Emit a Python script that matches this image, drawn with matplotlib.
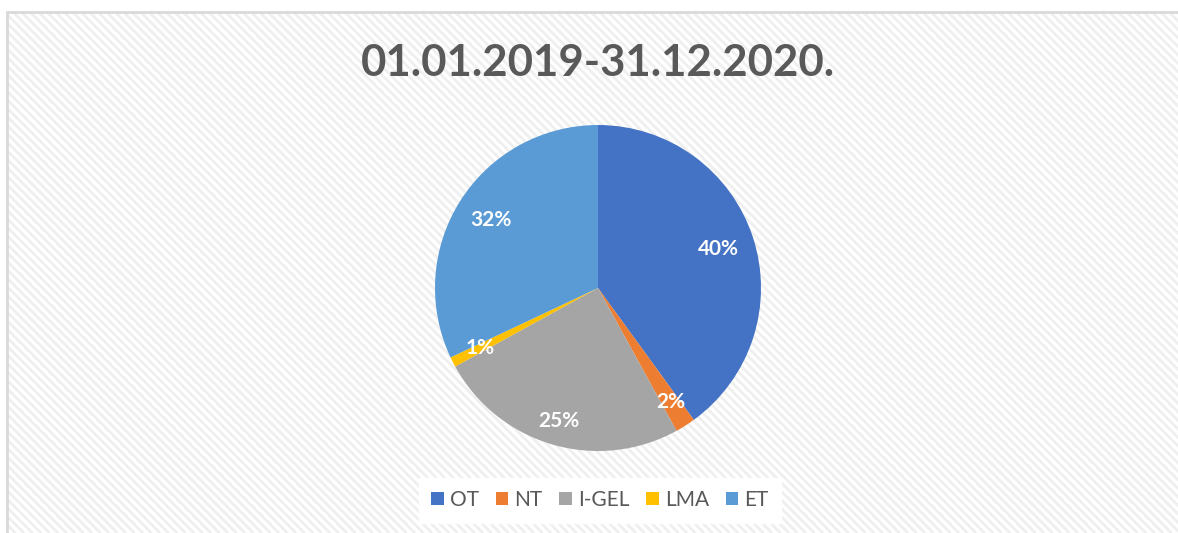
import matplotlib
matplotlib.use("Agg")
import matplotlib.pyplot as plt
from matplotlib.lines import Line2D
from matplotlib.collections import LineCollection
import numpy as np

title = "01.01.2019-31.12.2020."
categories = ["OT", "NT", "I-GEL", "LMA", "ET"]
values = [40, 2, 25, 1, 32]
colors = ["#4472C4", "#ED7D31", "#A5A5A5", "#FFC000", "#5B9BD5"]
label_dist = [0.78, 0.83, 0.85, 0.81, 0.78]

plt.rcParams['font.family'] = ['Lato', 'DejaVu Sans']

W, H = 1178, 533
fig = plt.figure(figsize=(W / 100, H / 100), dpi=100)
fig.patch.set_facecolor("white")

x0, y1 = 7 / W, 1 - 12 / H
# striped background (decoration)
bgax = fig.add_axes([x0, 0, 1 - x0, y1])
bgax.set_zorder(-2)
bw, bh = W * (1 - x0), H * y1
bgax.set_xlim(0, bw)
bgax.set_ylim(0, bh)
bgax.axis("off")
step = 8.5
segs = [[(c - bh, bh), (c, 0)] for c in np.arange(0, bw + bh + step, step)]
bgax.add_collection(LineCollection(segs, colors="#efefef", linewidths=2.0))

border = Line2D([x0, x0, 1.0], [0.0, y1, y1], transform=fig.transFigure,
                color="#d9d9d9", linewidth=2, zorder=-1, solid_joinstyle="miter")
fig.add_artist(border)

cx, cy, r = 598, 288, 163
ax = fig.add_axes([(cx - r) / W, (H - cy - r) / H, 2 * r / W, 2 * r / H])
ax.set_zorder(2)
wedges, texts, autotexts = ax.pie(values, colors=colors, startangle=90, counterclock=False,
                                  autopct="%1.0f%%", pctdistance=0.8,
                                  wedgeprops=dict(linewidth=0),
                                  textprops=dict(color="white", fontsize=15, fontweight="bold"))
for w, t, d in zip(wedges, autotexts, label_dist):
    ang = np.deg2rad((w.theta1 + w.theta2) / 2)
    t.set_position((d * np.cos(ang), d * np.sin(ang)))
ax.set_xlim(-1, 1)
ax.set_ylim(-1, 1)
ax.set_aspect("equal")
ax.axis("off")

fig.text(598 / W, 1 - 63 / H, title, ha="center", va="center", fontsize=31.5,
         fontweight="bold", color="#595959", zorder=3)

leg = fig.legend(wedges, categories, loc="center", bbox_to_anchor=(600 / W, 1 - 500 / H),
                 ncol=5, frameon=True, fancybox=False, fontsize=15, handlelength=0.6,
                 handleheight=0.6, handletextpad=0.3, columnspacing=0.8, borderpad=0.6,
                 labelcolor="#595959")
leg.get_frame().set_facecolor("white")
leg.get_frame().set_edgecolor("white")
leg.get_frame().set_alpha(1)
leg.set_zorder(3)

fig.savefig("out.png", dpi=100, facecolor="white")
